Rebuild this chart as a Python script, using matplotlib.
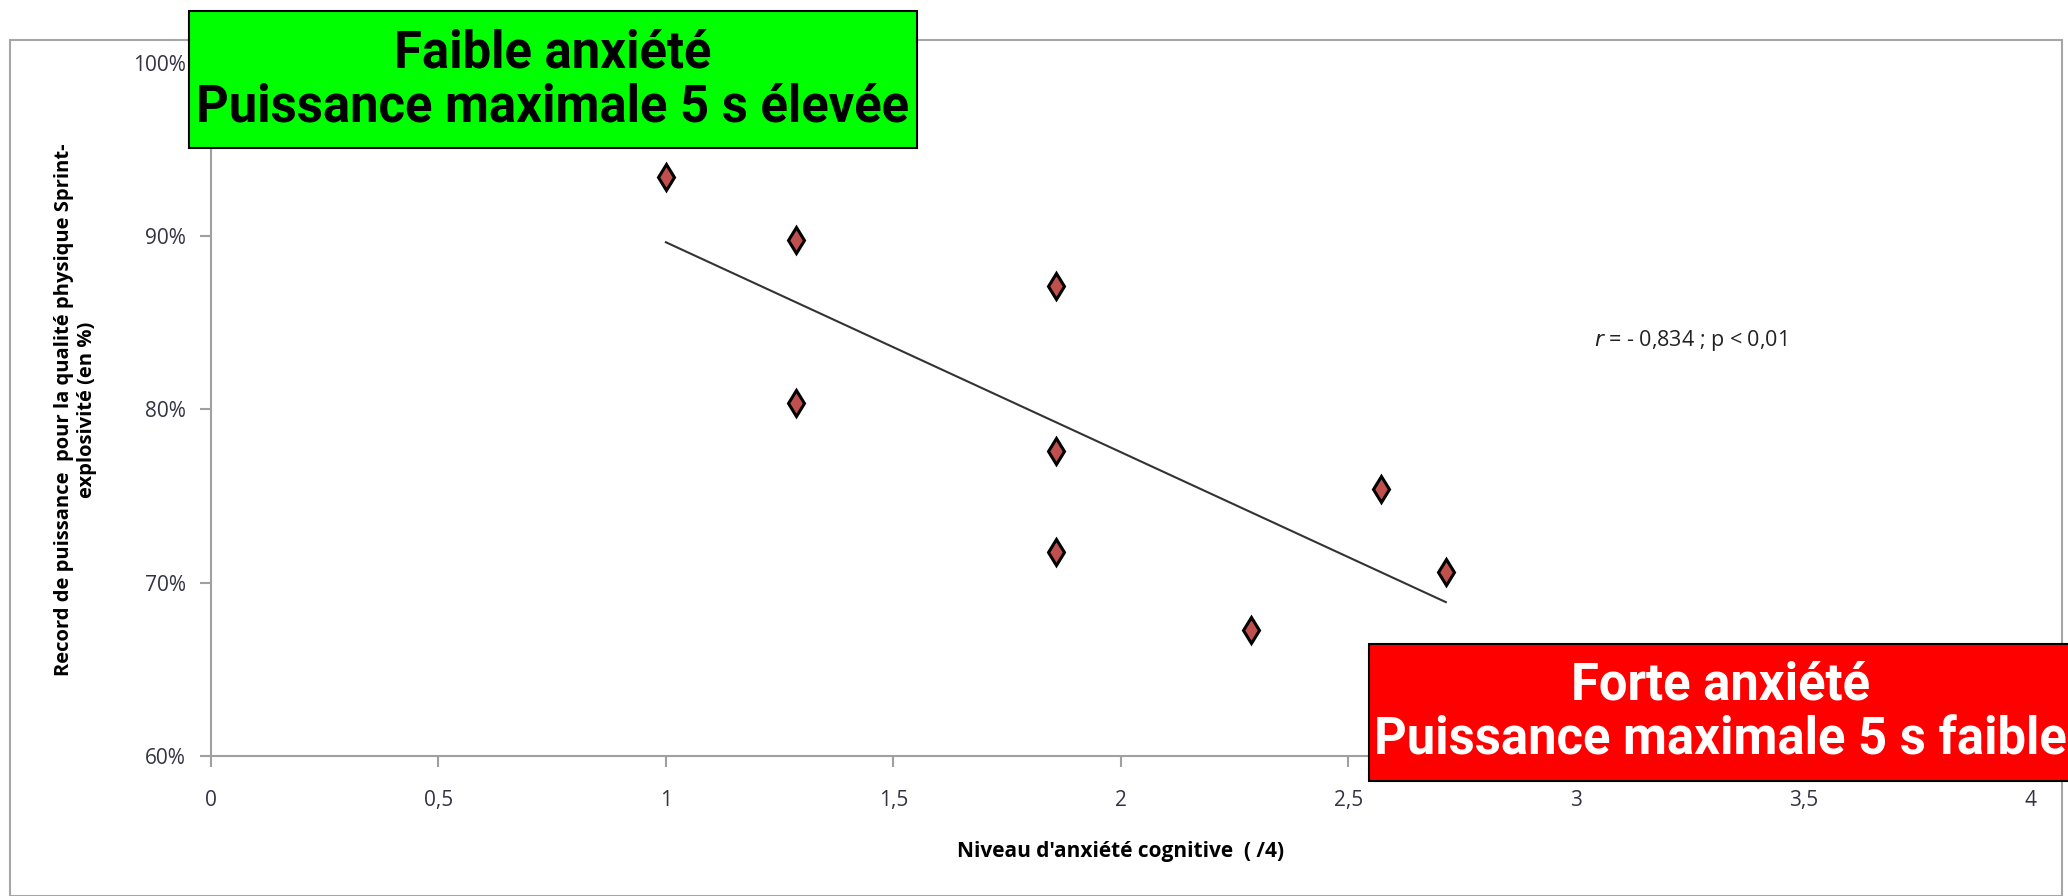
import numpy as np
import matplotlib.pyplot as plt
from matplotlib.patches import Rectangle
from matplotlib.ticker import FuncFormatter

# niveau d'anxiete cognitive (/4) et record de puissance (%)
anxiete = np.array([7, 9, 9, 13, 13, 13, 16, 18, 19]) / 7
puissance = np.array([93.4, 89.8, 80.4, 87.1, 77.6, 71.8, 67.3, 75.4, 70.6])

x_ticks = [0, 0.5, 1, 1.5, 2, 2.5, 3, 3.5, 4]
y_ticks = [60, 70, 80, 90, 100]

plt.rcParams['font.family'] = ['Open Sans', 'DejaVu Sans']

fig = plt.figure(figsize=(20.68, 8.96), dpi=100)
ax = fig.add_axes([0.102, 0.156, 0.880, 0.774])

# cadre gris autour du graphique
fig.patches.append(Rectangle((0.005, 0.0), 0.992, 0.955, transform=fig.transFigure,
                             fill=False, edgecolor='#a6a6a6', linewidth=1.5))

ax.plot(anxiete, puissance, 'd', markersize=13, markerfacecolor='#c0504d',
        markeredgecolor='black', markeredgewidth=2.2, zorder=3)

# droite de regression
a, b = np.polyfit(anxiete, puissance, 1)
xl = np.array([anxiete.min(), anxiete.max()])
ax.plot(xl, a * xl + b, color='#333333', linewidth=1.5)

ax.set_xlim(0, 4)
ax.set_ylim(60, 100)
ax.set_xticks(x_ticks)
ax.set_yticks(y_ticks)
ax.xaxis.set_major_formatter(FuncFormatter(lambda v, p: ('%g' % v).replace('.', ',')))
ax.yaxis.set_major_formatter(FuncFormatter(lambda v, p: '%d%%' % v))
for s in ['top', 'right']:
    ax.spines[s].set_visible(False)
for s in ['left', 'bottom']:
    ax.spines[s].set_color('#a0a0a0')
    ax.spines[s].set_linewidth(1.5)
ax.tick_params(colors='#a0a0a0', labelcolor='#333344', labelsize=15,
               length=8, width=1.5, direction='out')
ax.tick_params(axis='x', pad=16)
ax.tick_params(axis='y', pad=10)

ax.set_xlabel("Niveau d'anxiété cognitive  ( /4)", fontsize=15, fontweight='bold',
              labelpad=22)
ax.set_ylabel("Record de puissance  pour la qualité physique Sprint-\nexplosivité (en %)",
              fontsize=14.5, fontweight='bold', labelpad=26)

ax.text(3.04, 84.0, r'$\mathit{r}$ = - 0,834 ; p < 0,01', fontsize=15.5,
        color='#222222', va='center')

box_font = ['Roboto', 'DejaVu Sans']

fig.patches.append(Rectangle((0.0914, 0.835), 0.352, 0.153, transform=fig.transFigure,
                             facecolor='#00ff00', edgecolor='black', linewidth=1.5,
                             zorder=5))
fig.text(0.2674, 0.910, 'Faible anxiété\nPuissance maximale 5 s élevée',
         ha='center', va='center', fontsize=36.5, fontweight='bold',
         family=box_font, color='black', linespacing=1.12, zorder=6)

fig.patches.append(Rectangle((0.662, 0.128), 0.345, 0.153, transform=fig.transFigure,
                             facecolor='#ff0000', edgecolor='black', linewidth=1.5,
                             zorder=5))
fig.text(0.832, 0.204, 'Forte anxiété\nPuissance maximale 5 s faible',
         ha='center', va='center', fontsize=36.5, fontweight='bold',
         family=box_font, color='white', linespacing=1.12, zorder=6)

fig.savefig('out.png', dpi=100)
